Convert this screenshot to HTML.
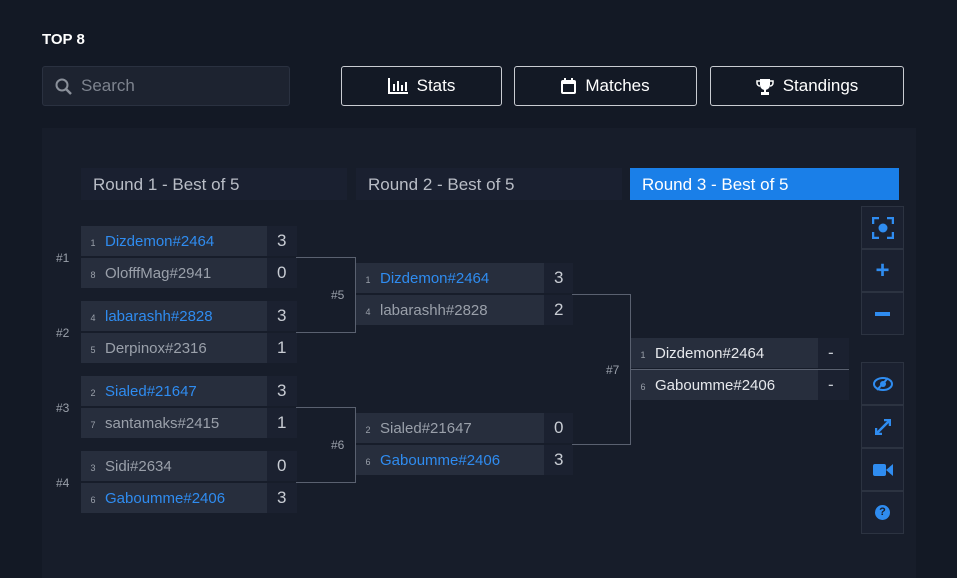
<!DOCTYPE html>
<html><head><style>
body{margin:0;width:957px;height:567px;background:#131925;font-family:"Liberation Sans",sans-serif;position:relative;overflow:hidden;color:#fff}
.a{position:absolute;box-sizing:border-box}
.btn{border:1px solid #c9ccd2;border-radius:3px;top:66px;height:40px;display:flex;align-items:center;justify-content:center;font-size:17px;gap:9px}
.hdr{top:168px;height:32px;background:#1a2030;color:#b9bdc6;font-size:17px;line-height:34px;padding-left:12px;width:266px}
.nm{background:#272e3d;height:30px;line-height:32px;font-size:15px;color:#9aa0aa}
.nm i{font-style:normal;font-size:9px;color:#9aa0aa;display:inline-block;width:24px;text-align:center}
.nm.w{color:#2f8cf0}
.nm.d{color:#e6e8ec}
.sc{background:#1b2130;height:30px;line-height:30px;font-size:17px;color:#c8ccd3;padding-left:10px}
.lab{font-size:12px;color:#9aa0aa}
.ln{border:1px solid #5a6170;border-left:none}
.sb{left:861px;width:43px;height:43px;background:#1b2130;border:1px solid #2c3341;display:flex;align-items:center;justify-content:center;color:#2f8cf0;font-weight:bold}
</style></head><body>
<div class="a" style="left:42px;top:31px;font-size:15px;font-weight:bold">TOP 8</div>
<div class="a" style="left:42px;top:66px;width:248px;height:40px;background:#1d2330;border:1px solid #2a3140;border-radius:3px;color:#7d838e;font-size:17px;line-height:38px;padding-left:38px">Search
<svg style="position:absolute;left:12px;top:11px" width="18" height="18"><circle cx="7" cy="7" r="5.5" fill="none" stroke="#8a909a" stroke-width="2"/><line x1="11" y1="11" x2="16" y2="16" stroke="#8a909a" stroke-width="2.5"/></svg></div>
<div class="a btn" style="left:341px;width:161px"><svg width="20" height="16"><rect x="0" y="14" width="20" height="2" fill="#fff"/><rect x="0" y="0" width="2" height="16" fill="#fff"/><rect x="5" y="6" width="2" height="7" fill="#fff"/><rect x="9" y="3" width="2" height="10" fill="#fff"/><rect x="13" y="7" width="2" height="6" fill="#fff"/><rect x="17" y="4" width="2" height="9" fill="#fff"/></svg>Stats</div>
<div class="a btn" style="left:514px;width:183px"><svg width="15" height="16"><rect x="0" y="2" width="15" height="14" rx="2" fill="#fff"/><rect x="2" y="6" width="11" height="8" fill="#131925"/><rect x="3" y="0" width="2" height="4" fill="#fff"/><rect x="10" y="0" width="2" height="4" fill="#fff"/></svg>Matches</div>
<div class="a btn" style="left:710px;width:194px"><svg width="18" height="17"><path d="M4 1H14V7A5 5 0 0 1 4 7Z" fill="#fff"/><path d="M4 3H1V5A3 3 0 0 0 4 8M14 3H17V5A3 3 0 0 1 14 8" fill="none" stroke="#fff" stroke-width="1.5"/><rect x="8" y="11" width="2" height="3" fill="#fff"/><rect x="5" y="14" width="8" height="3" fill="#fff"/></svg>Standings</div>
<div class="a" style="left:42px;top:128px;width:874px;height:450px;background:#171d2a"></div>

<div class="a hdr" style="left:81px">Round 1 - Best of 5</div>
<div class="a hdr" style="left:356px">Round 2 - Best of 5</div>
<div class="a hdr" style="left:630px;width:269px;background:#1a7fe8;color:#fff">Round 3 - Best of 5</div>

<div class="a ln" style="left:296px;top:257px;width:60px;height:76px"></div>
<div class="a ln" style="left:296px;top:407px;width:60px;height:76px"></div>
<div class="a ln" style="left:572px;top:294px;width:59px;height:151px"></div>
<div class="a" style="left:631px;top:369px;width:218px;height:1px;background:#5a6170"></div>

<!-- R1 -->
<div class="a nm w" style="left:81px;top:226px;width:186px"><i>1</i>Dizdemon#2464</div><div class="a sc" style="left:267px;top:226px;width:30px">3</div>
<div class="a nm" style="left:81px;top:258px;width:186px"><i>8</i>OlofffMag#2941</div><div class="a sc" style="left:267px;top:258px;width:30px">0</div>
<div class="a nm w" style="left:81px;top:301px;width:186px"><i>4</i>labarashh#2828</div><div class="a sc" style="left:267px;top:301px;width:30px">3</div>
<div class="a nm" style="left:81px;top:333px;width:186px"><i>5</i>Derpinox#2316</div><div class="a sc" style="left:267px;top:333px;width:30px">1</div>
<div class="a nm w" style="left:81px;top:376px;width:186px"><i>2</i>Sialed#21647</div><div class="a sc" style="left:267px;top:376px;width:30px">3</div>
<div class="a nm" style="left:81px;top:408px;width:186px"><i>7</i>santamaks#2415</div><div class="a sc" style="left:267px;top:408px;width:30px">1</div>
<div class="a nm" style="left:81px;top:451px;width:186px"><i>3</i>Sidi#2634</div><div class="a sc" style="left:267px;top:451px;width:30px">0</div>
<div class="a nm w" style="left:81px;top:483px;width:186px"><i>6</i>Gaboumme#2406</div><div class="a sc" style="left:267px;top:483px;width:30px">3</div>
<div class="a lab" style="left:56px;top:251px">#1</div><div class="a lab" style="left:56px;top:326px">#2</div>
<div class="a lab" style="left:56px;top:401px">#3</div><div class="a lab" style="left:56px;top:476px">#4</div>
<div class="a lab" style="left:331px;top:288px">#5</div><div class="a lab" style="left:331px;top:438px">#6</div>
<div class="a lab" style="left:606px;top:363px">#7</div>
<!-- R2 -->
<div class="a nm w" style="left:356px;top:263px;width:188px"><i>1</i>Dizdemon#2464</div><div class="a sc" style="left:544px;top:263px;width:29px">3</div>
<div class="a nm" style="left:356px;top:295px;width:188px"><i>4</i>labarashh#2828</div><div class="a sc" style="left:544px;top:295px;width:29px">2</div>
<div class="a nm" style="left:356px;top:413px;width:188px"><i>2</i>Sialed#21647</div><div class="a sc" style="left:544px;top:413px;width:29px">0</div>
<div class="a nm w" style="left:356px;top:445px;width:188px"><i>6</i>Gaboumme#2406</div><div class="a sc" style="left:544px;top:445px;width:29px">3</div>
<!-- R3 -->
<div class="a nm d" style="left:631px;top:338px;width:187px"><i>1</i>Dizdemon#2464</div><div class="a sc" style="left:818px;top:338px;width:31px">-</div>
<div class="a nm d" style="left:631px;top:370px;width:187px"><i>6</i>Gaboumme#2406</div><div class="a sc" style="left:818px;top:370px;width:31px">-</div>

<div class="a sb" style="top:206px"><svg width="22" height="22"><path d="M1 7V1H7M15 1H21V7M21 15V21H15M7 21H1V15" fill="none" stroke="#2f8cf0" stroke-width="2.5"/><circle cx="11" cy="11" r="4.5" fill="#2f8cf0"/></svg></div>
<div class="a sb" style="top:249px;font-size:24px">+</div>
<div class="a sb" style="top:292px"><div style="width:15px;height:4px;background:#2f8cf0"></div></div>
<div class="a sb" style="top:362px"><svg width="20" height="14"><ellipse cx="10" cy="7" rx="9" ry="6" fill="none" stroke="#2f8cf0" stroke-width="2"/><circle cx="10" cy="7" r="3" fill="#2f8cf0"/><line x1="4" y1="13" x2="15" y2="1" stroke="#2f8cf0" stroke-width="2"/></svg></div>
<div class="a sb" style="top:405px"><svg width="16" height="16"><path d="M9 1H15V7M1 9V15H7M15 1L1 15" fill="none" stroke="#2f8cf0" stroke-width="2.5"/></svg></div>
<div class="a sb" style="top:448px"><svg width="20" height="14"><rect x="0" y="1" width="13" height="12" rx="2" fill="#2f8cf0"/><path d="M13 7L20 1V13Z" fill="#2f8cf0"/></svg></div>
<div class="a sb" style="top:491px"><div style="width:15px;height:15px;border-radius:50%;background:#2f8cf0;color:#171d2a;font-size:11px;text-align:center;line-height:15px">?</div></div>
</body></html>
